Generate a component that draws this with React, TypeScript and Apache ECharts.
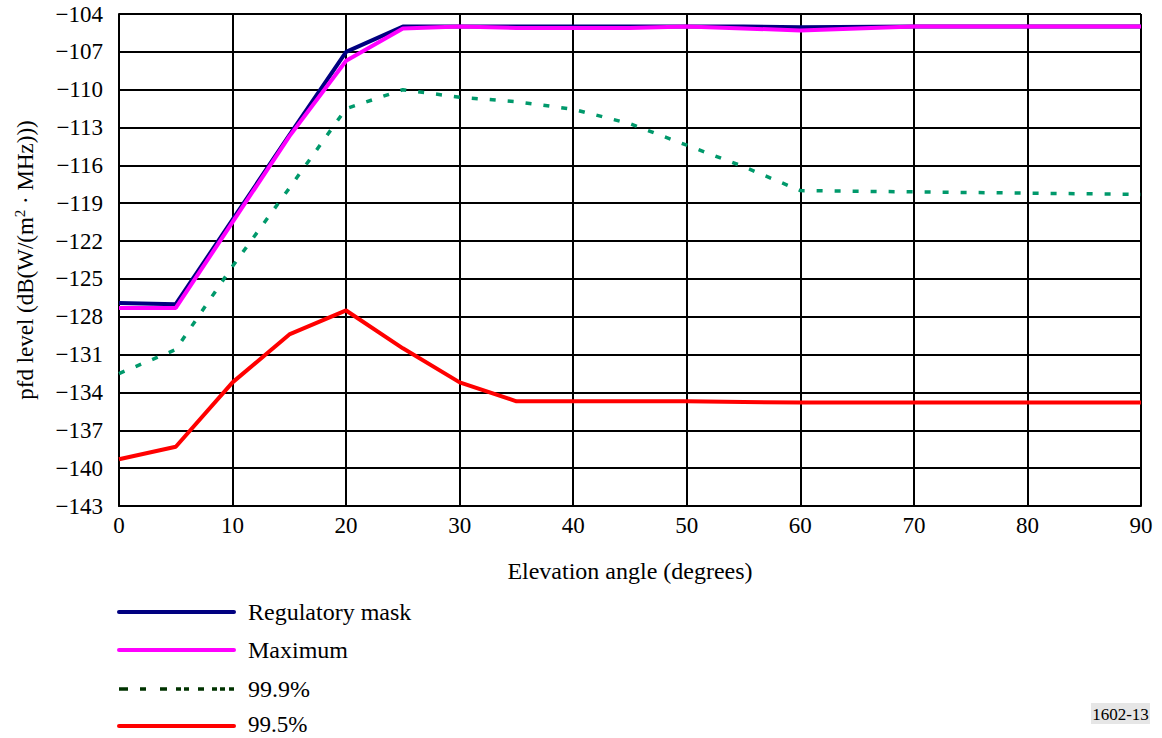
import React, { useEffect, useRef } from "react";
import * as echarts from "echarts";

const angles = [0, 5, 10, 15, 20, 25, 30, 35, 40, 45, 50, 55, 60, 70, 80, 90];
const regulatoryMask = [-126.9, -127.0, -120.3, -113.6, -107.0, -105.0, -105.0, -105.0, -105.0, -105.0, -105.0, -105.0, -105.05, -105.0, -105.0, -105.0];
const maximum = [-127.3, -127.3, -120.5, -113.7, -107.7, -105.15, -105.0, -105.1, -105.1, -105.1, -105.0, -105.15, -105.3, -105.0, -105.0, -105.0];
const p999 = [-132.5, -130.6, -124.0, -117.8, -111.5, -110.0, -110.6, -110.95, -111.55, -112.7, -114.4, -116.1, -118.0, -118.1, -118.2, -118.3];
const p995 = [-139.3, -138.3, -133.2, -129.4, -127.5, -130.5, -133.2, -134.7, -134.7, -134.7, -134.7, -134.75, -134.8, -134.8, -134.8, -134.8];
const xTicks = { min: 0, max: 90, step: 10 };
const yTicks = { min: -143, max: -104, step: 3 };
const legendNames = ["Regulatory mask", "Maximum", "99.9%", "99.5%"];
const figureId = "1602-13";

const FONT = "Liberation Serif";

function pairs(vals: number[]) {
  return angles.map((a, i) => [a, vals[i]]);
}

export default function App() {
  const ref = useRef<HTMLDivElement>(null);
  useEffect(() => {
    if (!ref.current) return;
    const chart = echarts.init(ref.current, undefined, { renderer: "svg" });
    const legendY = [612, 650, 689, 726];
    const legendColors = ["#000080", "#FF00FF", "#003300", "#FF0000"];
    const graphics: any[] = [];
    legendNames.forEach((n, i) => {
      graphics.push({
        type: "line",
        shape: { x1: 119, y1: legendY[i], x2: 234, y2: legendY[i] },
        style: i === 2
          ? { stroke: legendColors[i], lineWidth: 3.5, lineDash: [9, 12, 6, 14, 7, 9, 5, 3, 5, 9, 6, 8, 5, 3, 5, 4] }
          : { stroke: legendColors[i], lineWidth: 4, lineCap: "round" },
      });
      graphics.push({
        type: "text",
        x: 248,
        y: i === 3 ? 724 : legendY[i],
        style: { text: n, fontSize: i === 3 ? 23 : 24, fontFamily: FONT, fill: "#000", verticalAlign: "middle", align: "left" },
      });
    });
    graphics.push({
      type: "rect",
      shape: { x: 1091, y: 703, width: 59, height: 21 },
      style: { fill: "#e6e6e6" },
    });
    graphics.push({
      type: "text",
      x: 1120.5,
      y: 714,
      style: { text: figureId, fontSize: 17, fontFamily: FONT, fill: "#000", align: "center", verticalAlign: "middle" },
    });

    const fmt = (v: number) => String(v).replace("-", "\u2212");

    chart.setOption({
      animation: false,
      grid: { left: 119, right: 21, top: 14, bottom: 232, containLabel: false },
      xAxis: {
        type: "value",
        min: xTicks.min,
        max: xTicks.max,
        interval: xTicks.step,
        name: "Elevation angle (degrees)",
        nameLocation: "middle",
        nameGap: 53,
        nameTextStyle: { fontSize: 24, color: "#000", fontFamily: FONT },
        axisLine: { show: true, lineStyle: { color: "#000", width: 2 } },
        axisTick: { show: false },
        axisLabel: { fontSize: 23, color: "#000", margin: 8, fontFamily: FONT },
        splitLine: { show: true, lineStyle: { color: "#000", width: 2 } },
      },
      yAxis: {
        type: "value",
        min: yTicks.min,
        max: yTicks.max,
        interval: yTicks.step,
        name: "pfd level (dB(W/(m{sup|2} · MHz)))",
        nameLocation: "middle",
        nameGap: 80,
        nameRotate: 90,
        nameTextStyle: {
          fontSize: 23,
          color: "#000",
          fontFamily: FONT,
          rich: { sup: { fontSize: 15, verticalAlign: "top", padding: [0, 0, 12, 0], fontFamily: FONT, color: "#000" } },
        },
        axisLine: { show: true, lineStyle: { color: "#000", width: 2 } },
        axisTick: { show: false },
        axisLabel: { fontSize: 23, color: "#000", margin: 16, formatter: fmt, fontFamily: FONT },
        splitLine: { show: true, lineStyle: { color: "#000", width: 2 } },
      },
      series: [
        {
          name: legendNames[2],
          type: "line",
          data: pairs(p999),
          symbol: "none",
          lineStyle: { color: "#00996B", width: 3.5, type: [6, 12] },
          z: 3,
        },
        {
          name: legendNames[3],
          type: "line",
          data: pairs(p995),
          symbol: "none",
          lineStyle: { color: "#FF0000", width: 4 },
          z: 3,
        },
        {
          name: legendNames[0],
          type: "line",
          data: pairs(regulatoryMask),
          symbol: "none",
          lineStyle: { color: "#000080", width: 4 },
          z: 4,
        },
        {
          name: legendNames[1],
          type: "line",
          data: pairs(maximum),
          symbol: "none",
          lineStyle: { color: "#FF00FF", width: 4 },
          z: 5,
        },
      ],
      graphic: graphics,
    });
    return () => chart.dispose();
  }, []);
  return (
    <div
      ref={ref}
      style={{ position: "fixed", left: 0, top: 0, width: 1162, height: 738, background: "#fff" }}
    />
  );
}
